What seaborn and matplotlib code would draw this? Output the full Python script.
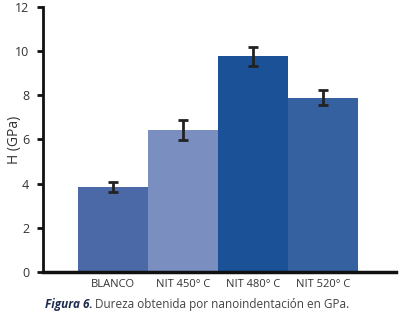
import numpy as np
import pandas as pd
import seaborn as sns
import matplotlib.pyplot as plt

# Data ########################################################################
muestras = ['BLANCO', 'NIT 450° C', 'NIT 480° C', 'NIT 520° C']
dureza = [3.85, 6.42, 9.77, 7.90]
error = [0.22, 0.44, 0.43, 0.33]
colores = ['#4a69a6', '#7a8ec0', '#1b5196', '#3561a0']

df = pd.DataFrame({'muestra': muestras, 'H': dureza, 'err': error})

# Plot ########################################################################
sns.set_style('white')
plt.rcParams['font.family'] = ['Open Sans', 'DejaVu Sans']

fig = plt.figure(figsize=(4.0, 3.18), dpi=100)
ax = fig.add_axes([0.1075, 0.145, 0.8825, 0.833])

sns.barplot(data=df, x='muestra', y='H', hue='muestra', palette=colores,
            width=1.0, legend=False, ax=ax, saturation=1, linewidth=0)

ax.errorbar(np.arange(len(muestras)), dureza, yerr=error, fmt='none',
            ecolor='#222222', elinewidth=2, capsize=3.5, capthick=2)

ax.set_xlim(-1.0, 4.04)
ax.set_ylim(0, 12)
ax.set_yticks(range(0, 13, 2))
ax.set_xlabel('')
ax.set_ylabel('H (GPa)', fontsize=10, color='#333333')
ax.yaxis.set_label_coords(-0.06, 0.5)

sns.despine(ax=ax)
ax.spines['left'].set_linewidth(2)
ax.spines['left'].set_color('#111111')
ax.spines['bottom'].set_linewidth(2.5)
ax.spines['bottom'].set_color('#111111')
ax.tick_params(axis='y', direction='out', length=4, width=2, color='#111111',
               labelsize=9, labelcolor='#333333', pad=6, left=True)
ax.tick_params(axis='x', length=0, labelsize=8, labelcolor='#333333', pad=5)

# Caption #####################################################################
fig.text(0.113, 0.03, 'Figura 6.', fontsize=8.5, fontweight='bold',
         fontstyle='italic', color='#1c2b4f')
fig.text(0.237, 0.03, 'Dureza obtenida por nanoindentación en GPa.',
         fontsize=8.5, color='#444444')

plt.savefig('out.png', dpi=100)
